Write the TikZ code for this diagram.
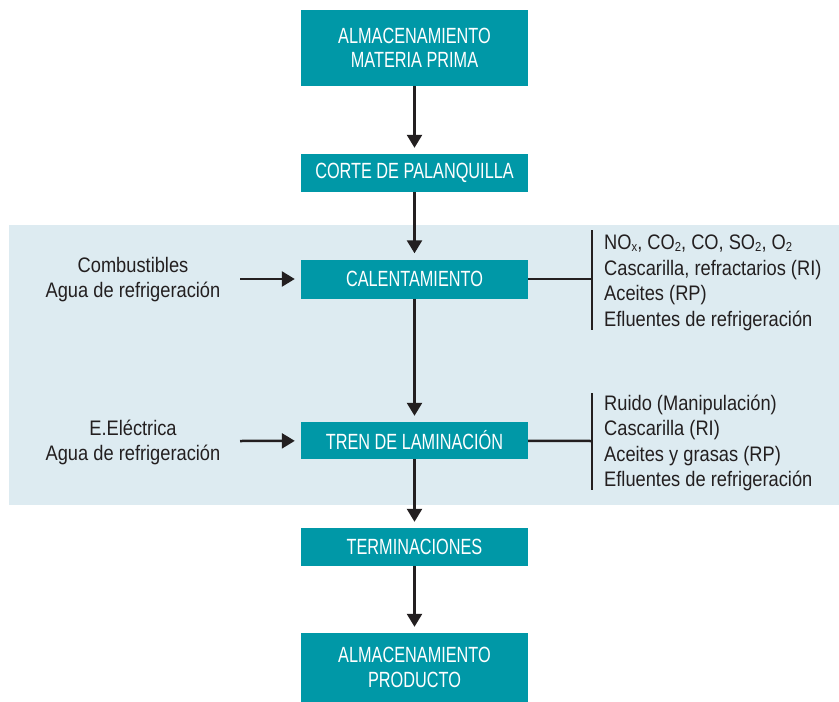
\documentclass[tikz,border=0pt]{standalone}
\usepackage{fontspec}
\setmainfont{Liberation Sans}[FakeStretch=0.87]
\newfontfamily\cajafont{Liberation Sans}[FakeStretch=0.74]
\usetikzlibrary{arrows.meta, positioning}

\definecolor{verdeagua}{RGB}{0,152,167}
\definecolor{fondoazul}{RGB}{221,235,241}
\definecolor{textogris}{RGB}{35,31,32}

\tikzset{
  etapa/.style={fill=verdeagua, text=white, minimum width=227pt, inner sep=0pt,
    align=center, font=\cajafont\fontsize{22}{24.5}\selectfont},
  rotulo/.style={text=textogris, align=center, inner sep=0pt, font=\fontsize{21}{25}\selectfont},
  salida/.style={text=textogris, align=left, anchor=west, inner sep=0pt, font=\fontsize{21}{25.5}\selectfont},
  flujo/.style={line width=2.5pt, draw=textogris, -{Triangle[width=15pt,length=13pt]}, shorten >=6pt},
  linea/.style={line width=2.5pt, draw=textogris}
}
\newcommand{\subind}[1]{\raisebox{-1.5pt}{\fontsize{13}{13}\selectfont #1}}

\begin{document}
\begin{tikzpicture}[x=1pt, y=-1pt]
  \useasboundingbox (0,0) rectangle (839,702);

  % Zona de proceso en caliente
  \fill[fondoazul] (9,225) rectangle (839,505);

  % Etapas del proceso
  \node[etapa, minimum height=76pt] (almmp) at (414.5,48) {ALMACENAMIENTO\\MATERIA PRIMA};
  \node[etapa, minimum height=38pt] (corte) at (414.5,173) {CORTE DE PALANQUILLA};
  \node[etapa, minimum height=39pt] (calent) at (414.5,279) {CALENTAMIENTO};
  \node[etapa, minimum height=37pt] (tren) at (414.5,440.5) {TREN DE LAMINACIÓN};
  \node[etapa, minimum height=38pt] (termin) at (414.5,547) {TERMINACIONES};
  \node[etapa, minimum height=69pt] (almprod) at (414.5,667.5) {ALMACENAMIENTO\\PRODUCTO};

  % Flechas principales
  \draw[flujo] (almmp) -- (corte);
  \draw[flujo] (corte) -- (calent);
  \draw[flujo] (calent) -- (tren);
  \draw[flujo] (tren) -- (termin);
  \draw[flujo] (termin) -- (almprod);

  % Entradas
  \node[rotulo] (ent1) at (133,280) {Combustibles\\Agua de refrigeración};
  \node[rotulo] (ent2) at (133,442) {E.Eléctrica\\Agua de refrigeración};
  \coordinate (ini1) at (240,279);
  \coordinate (ini2) at (240,441);
  \draw[flujo] (ini1) -- (calent);
  \draw[flujo] (ini2) -- (tren);

  % Salidas
  \coordinate (bar1) at (592,279);
  \coordinate (bar2) at (592,441);
  \draw[linea] (calent) -- (bar1);
  \draw[linea] (592,230) -- (592,330);
  \draw[linea] (tren) -- (bar2);
  \draw[linea] (592,393) -- (592,490);
  \node[salida] (sal1) at (604,283) {NO\subind{x}, CO\subind{2}, CO, SO\subind{2}, O\subind{2}\\Cascarilla, refractarios (RI)\\Aceites (RP)\\Efluentes de refrigeración};
  \node[salida] (sal2) at (604,443) {Ruido (Manipulación)\\Cascarilla (RI)\\Aceites y grasas (RP)\\Efluentes de refrigeración};
\end{tikzpicture}
\end{document}
